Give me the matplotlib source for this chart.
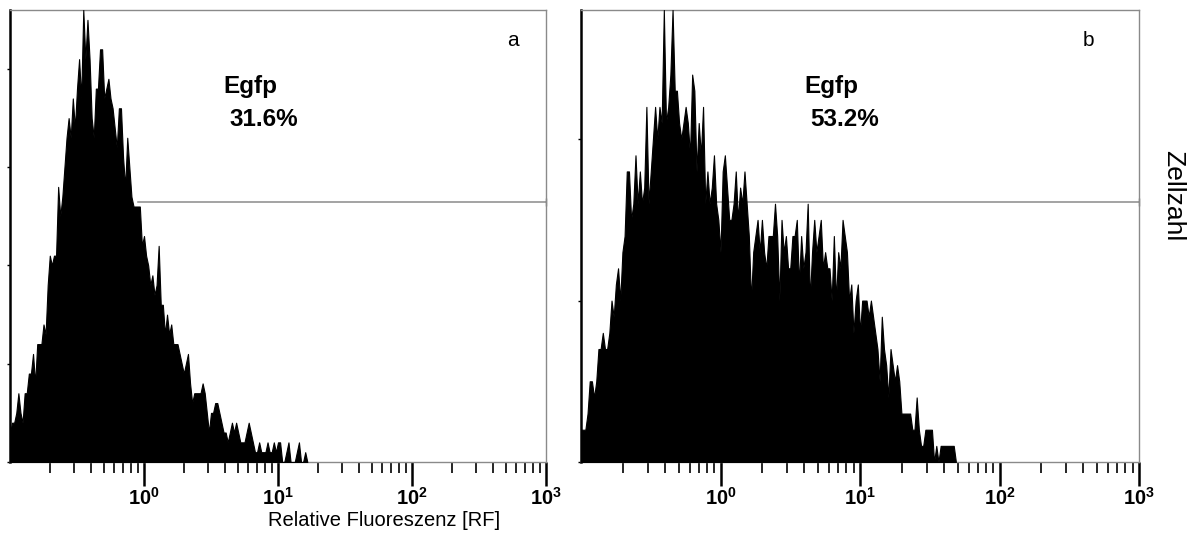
import numpy as np
import matplotlib
matplotlib.use('Agg')
from matplotlib import pyplot as plt
from matplotlib.ticker import FixedLocator, FixedFormatter, NullFormatter

plt.rcParams['font.family'] = ['Liberation Sans', 'DejaVu Sans']
plt.rcParams['mathtext.fontset'] = 'custom'
plt.rcParams['mathtext.rm'] = 'Liberation Sans'
plt.rcParams['mathtext.bf'] = 'Liberation Sans:bold'

# counts per log channel (256 channels over 4 decades, 0.1 .. 1000)
counts_a = [3, 4, 4, 5, 7, 5, 4, 7, 7, 9, 9, 11, 8, 12, 12, 12, 14, 13, 18, 21,
            20, 21, 21, 28, 25, 27, 30, 33, 35, 33, 37, 34, 38, 41, 37, 46, 41, 45, 41, 35,
            33, 38, 38, 42, 42, 37, 38, 39, 37, 36, 34, 32, 36, 36, 31, 28, 33, 30, 27, 26,
            26, 26, 26, 22, 23, 21, 20, 18, 19, 17, 18, 22, 16, 16, 13, 15, 13, 14, 12, 12,
            12, 11, 10, 9, 10, 11, 8, 6, 7, 7, 7, 7, 8, 7, 5, 3, 5, 5, 6, 6,
            5, 4, 3, 3, 2, 3, 4, 3, 4, 3, 2, 2, 2, 3, 4, 3, 2, 1, 1, 2,
            1, 1, 1, 2, 1, 1, 2, 1, 2, 2, 0, 0, 1, 2, 0, 0, 0, 1, 2, 0,
            0, 1, 0]
counts_b = [2, 2, 2, 3, 5, 5, 4, 5, 7, 7, 8, 7, 7, 8, 10, 9, 11, 12, 10, 13,
            14, 18, 18, 15, 16, 19, 16, 18, 16, 17, 22, 16, 18, 20, 22, 20, 22, 21, 28, 21,
            22, 24, 28, 23, 23, 21, 20, 21, 22, 21, 19, 24, 23, 18, 21, 19, 22, 16, 18, 16,
            17, 19, 16, 15, 13, 18, 19, 17, 15, 15, 16, 18, 15, 17, 16, 18, 16, 14, 10, 13,
            14, 15, 13, 15, 13, 12, 14, 14, 14, 16, 14, 10, 15, 13, 14, 12, 12, 14, 14, 15,
            11, 14, 12, 13, 16, 10, 13, 15, 13, 14, 15, 12, 13, 12, 12, 10, 14, 10, 13, 12,
            15, 14, 13, 10, 11, 8, 10, 11, 8, 10, 10, 10, 9, 10, 9, 8, 7, 5, 9, 7,
            6, 4, 7, 6, 5, 6, 5, 3, 3, 3, 3, 3, 2, 2, 4, 2, 1, 1, 2, 2,
            2, 2, 0, 1, 0, 1, 1, 1, 1, 1, 1, 1, 0]

ymax = [46, 28]
gates = [26.5, 16.1]
gate_start = [0.9, 0.8]
percents = ['31.6%', '53.2%']
panel_labels = ['a', 'b']
decades = [1, 10, 100, 1000]
decade_labels = [r'$\mathbf{10^{0}}$', r'$\mathbf{10^{1}}$', r'$\mathbf{10^{2}}$', r'$\mathbf{10^{3}}$']
minor = [m * d for d in [0.1, 1, 10, 100] for m in range(2, 10)]

fig = plt.figure(figsize=(11.92, 5.36), dpi=100)
ax_a = fig.add_axes([10 / 1192, 74 / 536, 536 / 1192, 452 / 536])
ax_b = fig.add_axes([581 / 1192, 74 / 536, 558 / 1192, 452 / 536])

for i, (ax, counts) in enumerate(zip([ax_a, ax_b], [counts_a, counts_b])):
    ch = np.arange(len(counts))
    rf = 10 ** (ch / 64.0 - 1)
    ax.fill_between(rf, 0, counts, facecolor='black', edgecolor='black', lw=0.8, zorder=3)
    ax.plot([gate_start[i], 1000], [gates[i], gates[i]], color='#8a8a8a', lw=1.1, zorder=2)
    ax.plot([1000], [gates[i]], marker='|', color='#666666', ms=6, clip_on=False, zorder=2)

    ax.set_xscale('log')
    ax.set_xlim(0.1, 1000)
    ax.set_ylim(0, ymax[i])

    ax.xaxis.set_major_locator(FixedLocator(decades))
    ax.xaxis.set_major_formatter(FixedFormatter(decade_labels))
    ax.xaxis.set_minor_locator(FixedLocator(minor))
    ax.xaxis.set_minor_formatter(NullFormatter())
    ax.tick_params(axis='x', which='major', direction='out', length=17, width=1.8,
                   color='black', labelsize=14.5, pad=1)
    ax.tick_params(axis='x', which='minor', direction='out', length=8, width=1.2, color='black')

    ax.yaxis.set_major_locator(FixedLocator(list(range(0, ymax[i] + 1, 10))))
    ax.tick_params(axis='y', which='major', direction='out', length=2.5, width=1,
                   color='black', labelleft=False)
    ax.yaxis.set_minor_locator(FixedLocator([]))

    for s in ['top', 'right', 'bottom']:
        ax.spines[s].set_color('#8a8a8a')
        ax.spines[s].set_linewidth(1)
    ax.spines['left'].set_color('black')
    ax.spines['left'].set_linewidth(1.8)

# panel letters and gate annotations
fig.text(513 / 1192, 1 - 40 / 536, panel_labels[0], fontsize=15, ha='center', va='center')
fig.text(1088 / 1192, 1 - 40 / 536, panel_labels[1], fontsize=15, ha='center', va='center')

fig.text(250 / 1192, 1 - 86 / 536, 'Egfp', fontsize=17.5, fontweight='bold', ha='center', va='center')
fig.text(263.5 / 1192, 1 - 119 / 536, percents[0], fontsize=17.5, fontweight='bold', ha='center', va='center')
fig.text(831.5 / 1192, 1 - 86 / 536, 'Egfp', fontsize=17.5, fontweight='bold', ha='center', va='center')
fig.text(845 / 1192, 1 - 119 / 536, percents[1], fontsize=17.5, fontweight='bold', ha='center', va='center')

fig.text(384 / 1192, 1 - 521 / 536, 'Relative Fluoreszenz [RF]', fontsize=14.5, ha='center', va='center')
fig.text(1173 / 1192, 1 - 196 / 536, 'Zellzahl', fontsize=19, rotation=-90, ha='center', va='center')

fig.savefig('out.png', dpi=100)
